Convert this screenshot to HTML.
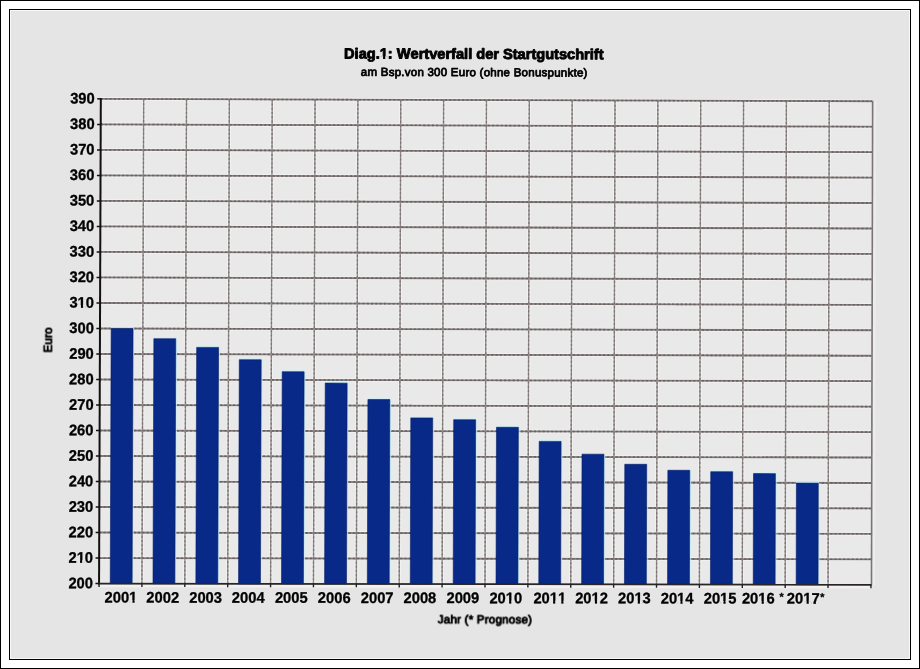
<!DOCTYPE html>
<html><head><meta charset="utf-8">
<style>
html,body{margin:0;padding:0;background:#fff;}
body{width:920px;height:669px;position:relative;overflow:hidden;}
#outer{position:absolute;left:0;top:0;width:918px;height:667px;border:1px solid #000;}
#inner{position:absolute;left:9px;top:9px;width:900px;height:649px;border:1px solid #000;background:#e5e5e5;box-shadow:inset 1px 1px 0 #f8f8f8, inset -1px -1px 0 #f8f8f8;}
svg{position:absolute;left:0;top:0;}
</style></head><body>
<div id="outer"></div>
<div id="inner"></div>
<svg width="920" height="669" viewBox="0 0 920 669" fill="none">
<path d="M100.82 98.88L872.10 101.26L870.94 584.75L99.05 583.56Z" fill="#e9e9e9"/>
<path d="M100.82 98.88L872.10 101.26M100.73 124.39L872.03 126.70M100.63 149.90L871.97 152.15M100.54 175.41L871.91 177.60M100.45 200.92L871.85 203.04M100.35 226.42L871.79 228.49M100.26 251.93L871.73 253.94M100.17 277.44L871.67 279.38M100.08 302.95L871.61 304.83M99.98 328.46L871.55 330.28M99.89 353.97L871.49 355.72M99.80 379.48L871.43 381.17M99.70 404.99L871.37 406.62M99.61 430.50L871.31 432.06M99.52 456.01L871.25 457.51M99.42 481.52L871.18 482.96M99.33 507.03L871.12 508.41M99.24 532.54L871.06 533.85M99.14 558.05L871.00 559.30M143.67 99.01L141.93 583.63M186.52 99.14L184.82 583.69M229.37 99.27L227.70 583.76M272.21 99.41L270.58 583.83M315.06 99.54L313.46 583.89M357.91 99.67L356.35 583.96M400.76 99.80L399.23 584.02M443.61 99.93L442.11 584.09M486.46 100.07L485.00 584.15M529.31 100.20L527.88 584.22M572.15 100.33L570.76 584.29M615.00 100.46L613.64 584.35M657.85 100.59L656.53 584.42M700.70 100.73L699.41 584.48M743.55 100.86L742.29 584.55M786.40 100.99L785.18 584.61M829.25 101.12L828.06 584.68M100.04 585.46L871.54 586.64" stroke="#f1f1f1" stroke-width="3.6"/>
<path d="M100.82 98.88L872.10 101.26M100.73 124.39L872.03 126.70M100.63 149.90L871.97 152.15M100.54 175.41L871.91 177.60M100.45 200.92L871.85 203.04M100.35 226.42L871.79 228.49M100.26 251.93L871.73 253.94M100.17 277.44L871.67 279.38M100.08 302.95L871.61 304.83M99.98 328.46L871.55 330.28M99.89 353.97L871.49 355.72M99.80 379.48L871.43 381.17M99.70 404.99L871.37 406.62M99.61 430.50L871.31 432.06M99.52 456.01L871.25 457.51M99.42 481.52L871.18 482.96M99.33 507.03L871.12 508.41M99.24 532.54L871.06 533.85M99.14 558.05L871.00 559.30" stroke="#817a79" stroke-width="1.85"/>
<path d="M100.82 98.88L872.10 101.26M100.73 124.39L872.03 126.70M100.63 149.90L871.97 152.15M100.54 175.41L871.91 177.60M100.45 200.92L871.85 203.04M100.35 226.42L871.79 228.49M100.26 251.93L871.73 253.94M100.17 277.44L871.67 279.38M100.08 302.95L871.61 304.83M99.98 328.46L871.55 330.28M99.89 353.97L871.49 355.72M99.80 379.48L871.43 381.17M99.70 404.99L871.37 406.62M99.61 430.50L871.31 432.06M99.52 456.01L871.25 457.51M99.42 481.52L871.18 482.96M99.33 507.03L871.12 508.41M99.24 532.54L871.06 533.85M99.14 558.05L871.00 559.30" stroke="#6a6260" stroke-width="1.55" stroke-dasharray="2.2 2.1"/>
<path d="M143.67 99.01L141.93 583.63M186.52 99.14L184.82 583.69M229.37 99.27L227.70 583.76M272.21 99.41L270.58 583.83M315.06 99.54L313.46 583.89M357.91 99.67L356.35 583.96M400.76 99.80L399.23 584.02M443.61 99.93L442.11 584.09M486.46 100.07L485.00 584.15M529.31 100.20L527.88 584.22M572.15 100.33L570.76 584.29M615.00 100.46L613.64 584.35M657.85 100.59L656.53 584.42M700.70 100.73L699.41 584.48M743.55 100.86L742.29 584.55M786.40 100.99L785.18 584.61M829.25 101.12L828.06 584.68" stroke="#918b8a" stroke-width="1.4"/>
<path d="M143.67 99.01L141.93 583.63M186.52 99.14L184.82 583.69M229.37 99.27L227.70 583.76M272.21 99.41L270.58 583.83M315.06 99.54L313.46 583.89M357.91 99.67L356.35 583.96M400.76 99.80L399.23 584.02M443.61 99.93L442.11 584.09M486.46 100.07L485.00 584.15M529.31 100.20L527.88 584.22M572.15 100.33L570.76 584.29M615.00 100.46L613.64 584.35M657.85 100.59L656.53 584.42M700.70 100.73L699.41 584.48M743.55 100.86L742.29 584.55M786.40 100.99L785.18 584.61M829.25 101.12L828.06 584.68" stroke="#7c7472" stroke-width="1.3" stroke-dasharray="2 2.2"/>
<path d="M874.70 100.66L873.54 584.75" stroke="#ececec" stroke-width="3"/>
<path d="M872.65 100.66L871.49 584.75" stroke="#7a7474" stroke-width="1.6"/>
<path d="M133.65 328.15L132.73 582.42M110.75 327.90L133.65 327.95M176.34 338.35L175.48 582.48M153.44 338.10L176.34 338.15M219.16 347.05L218.34 582.55M196.26 346.80L219.16 346.85M261.80 359.35L261.04 582.61M238.90 359.10L261.80 359.15M304.71 371.35L304.00 582.68M281.81 371.10L304.71 371.15M347.73 382.75L347.07 582.74M324.83 382.50L347.73 382.55M390.41 399.15L389.82 582.81M367.51 398.90L390.41 398.95M433.29 417.55L432.77 582.88M410.39 417.30L433.29 417.35M476.20 419.35L475.70 582.94M453.30 419.10L476.20 419.15M518.97 426.94L518.50 583.01M496.07 426.70L518.97 426.74M561.69 441.04L561.27 583.07M538.79 440.80L561.69 440.84M604.50 453.84L604.13 583.14M581.60 453.60L604.50 453.64M647.27 463.94L646.94 583.20M624.37 463.70L647.27 463.74M690.35 469.94L690.04 583.27M667.45 469.70L690.35 469.74M733.24 471.34L732.94 583.34M710.34 471.10L733.24 471.14M776.00 473.24L775.72 583.40M753.10 473.00L776.00 473.04M818.90 482.74L818.65 583.47M796.00 482.50L818.90 482.54" stroke="#c8eef4" stroke-width="1.2"/>
<path d="M111.15 328.50L133.05 328.55L132.13 583.62L110.23 583.58ZM153.84 338.70L175.74 338.75L174.88 583.68L152.98 583.65ZM196.66 347.40L218.56 347.45L217.74 583.75L195.84 583.71ZM239.30 359.70L261.20 359.75L260.44 583.81L238.54 583.78ZM282.21 371.70L304.11 371.75L303.40 583.88L281.50 583.84ZM325.23 383.10L347.13 383.15L346.47 583.94L324.57 583.91ZM367.91 399.50L389.81 399.55L389.22 584.01L367.32 583.98ZM410.79 417.90L432.69 417.95L432.17 584.08L410.27 584.04ZM453.70 419.70L475.60 419.75L475.10 584.14L453.20 584.11ZM496.47 427.30L518.37 427.34L517.90 584.21L496.00 584.17ZM539.19 441.40L561.09 441.44L560.67 584.27L538.77 584.24ZM582.00 454.20L603.90 454.24L603.53 584.34L581.63 584.30ZM624.77 464.30L646.67 464.34L646.34 584.40L624.44 584.37ZM667.85 470.30L689.75 470.34L689.44 584.47L667.54 584.44ZM710.74 471.70L732.64 471.74L732.34 584.54L710.44 584.50ZM753.50 473.60L775.40 473.64L775.12 584.60L753.22 584.57ZM796.40 483.10L818.30 483.14L818.05 584.67L796.15 584.63Z" fill="#082988" stroke="#061c64" stroke-width="0.6"/>
<path d="M100.82 98.08L99.05 584.46" stroke="#141010" stroke-width="2"/>
<path d="M98.05 583.56L871.54 584.75" stroke="#2a2424" stroke-width="1.8"/>
<path d="M97.22 98.87L100.82 98.88M97.13 124.38L100.73 124.39M97.03 149.89L100.63 149.90M96.94 175.40L100.54 175.41M96.85 200.91L100.45 200.92M96.75 226.42L100.35 226.42M96.66 251.93L100.26 251.93M96.57 277.44L100.17 277.44M96.47 302.95L100.08 302.95M96.38 328.46L99.98 328.46M96.29 353.97L99.89 353.97M96.19 379.48L99.80 379.48M96.10 404.99L99.70 404.99M96.01 430.50L99.61 430.50M95.91 456.01L99.52 456.01M95.82 481.52L99.42 481.52M95.73 507.03L99.33 507.03M95.63 532.54L99.24 532.54M95.54 558.05L99.14 558.05M95.45 583.56L99.05 583.56" stroke="#111" stroke-width="1.5"/>
<path d="M99.05 583.56L99.04 586.96M141.93 583.63L141.92 587.03M184.82 583.69L184.80 587.09M227.70 583.76L227.69 587.16M270.58 583.83L270.57 587.22M313.46 583.89L313.45 587.29M356.35 583.96L356.34 587.35M399.23 584.02L399.22 587.42M442.11 584.09L442.10 587.48M485.00 584.15L484.99 587.55M527.88 584.22L527.87 587.62M570.76 584.29L570.75 587.68M613.64 584.35L613.64 587.75M656.53 584.42L656.52 587.81M699.41 584.48L699.40 587.88M742.29 584.55L742.28 587.94M785.18 584.61L785.17 588.01M828.06 584.68L828.05 588.07M870.94 584.75L870.93 588.14" stroke="#222" stroke-width="1.4"/>
<g font-family="Liberation Sans, sans-serif" fill="#000" style="font-kerning:none;text-rendering:geometricPrecision;opacity:0.999">
<text transform="matrix(0.9800 0.00301 -0.00377 1.0200 70.147 103.532)" font-size="15" font-weight="bold" stroke="#000" stroke-width="0.32" stroke-linejoin="round">390</text>
<text transform="matrix(0.9800 0.00293 -0.00377 1.0200 70.054 129.042)" font-size="15" font-weight="bold" stroke="#000" stroke-width="0.32" stroke-linejoin="round">380</text>
<text transform="matrix(0.9800 0.00285 -0.00377 1.0200 69.960 154.551)" font-size="15" font-weight="bold" stroke="#000" stroke-width="0.32" stroke-linejoin="round">370</text>
<text transform="matrix(0.9800 0.00277 -0.00377 1.0200 69.867 180.061)" font-size="15" font-weight="bold" stroke="#000" stroke-width="0.32" stroke-linejoin="round">360</text>
<text transform="matrix(0.9800 0.00269 -0.00377 1.0200 69.774 205.571)" font-size="15" font-weight="bold" stroke="#000" stroke-width="0.32" stroke-linejoin="round">350</text>
<text transform="matrix(0.9800 0.00261 -0.00378 1.0200 69.681 231.081)" font-size="15" font-weight="bold" stroke="#000" stroke-width="0.32" stroke-linejoin="round">340</text>
<text transform="matrix(0.9800 0.00253 -0.00378 1.0200 69.588 256.590)" font-size="15" font-weight="bold" stroke="#000" stroke-width="0.32" stroke-linejoin="round">330</text>
<text transform="matrix(0.9800 0.00245 -0.00378 1.0200 69.495 282.100)" font-size="15" font-weight="bold" stroke="#000" stroke-width="0.32" stroke-linejoin="round">320</text>
<g transform="matrix(0.9800 0.00237 -0.00378 1.0200 69.402 307.610)"><text font-size="15" font-weight="bold" stroke="#000" stroke-width="0.32" stroke-linejoin="round">310</text><g fill="#e5e5e5" stroke="none"><rect x="8.59" y="-2.43" width="3.18" height="3.23"/><rect x="13.98" y="-2.43" width="2.79" height="3.23"/></g></g>
<text transform="matrix(0.9800 0.00229 -0.00378 1.0200 69.309 333.120)" font-size="15" font-weight="bold" stroke="#000" stroke-width="0.32" stroke-linejoin="round">300</text>
<text transform="matrix(0.9800 0.00221 -0.00378 1.0200 69.216 358.641)" font-size="15" font-weight="bold" stroke="#000" stroke-width="0.32" stroke-linejoin="round">290</text>
<text transform="matrix(0.9800 0.00213 -0.00378 1.0200 69.122 384.150)" font-size="15" font-weight="bold" stroke="#000" stroke-width="0.32" stroke-linejoin="round">280</text>
<text transform="matrix(0.9800 0.00205 -0.00378 1.0200 69.029 409.660)" font-size="15" font-weight="bold" stroke="#000" stroke-width="0.32" stroke-linejoin="round">270</text>
<text transform="matrix(0.9800 0.00197 -0.00378 1.0200 68.936 435.170)" font-size="15" font-weight="bold" stroke="#000" stroke-width="0.32" stroke-linejoin="round">260</text>
<text transform="matrix(0.9800 0.00189 -0.00378 1.0200 68.843 460.680)" font-size="15" font-weight="bold" stroke="#000" stroke-width="0.32" stroke-linejoin="round">250</text>
<text transform="matrix(0.9800 0.00181 -0.00378 1.0200 68.750 486.190)" font-size="15" font-weight="bold" stroke="#000" stroke-width="0.32" stroke-linejoin="round">240</text>
<text transform="matrix(0.9800 0.00173 -0.00378 1.0200 68.657 511.688)" font-size="15" font-weight="bold" stroke="#000" stroke-width="0.32" stroke-linejoin="round">230</text>
<text transform="matrix(0.9800 0.00165 -0.00378 1.0200 68.564 537.210)" font-size="15" font-weight="bold" stroke="#000" stroke-width="0.32" stroke-linejoin="round">220</text>
<g transform="matrix(0.9800 0.00157 -0.00378 1.0200 68.471 562.719)"><text font-size="15" font-weight="bold" stroke="#000" stroke-width="0.32" stroke-linejoin="round">210</text><g fill="#e5e5e5" stroke="none"><rect x="8.59" y="-2.43" width="3.18" height="3.23"/><rect x="13.98" y="-2.43" width="2.79" height="3.23"/></g></g>
<text transform="matrix(0.9800 0.00149 -0.00378 1.0200 68.378 588.229)" font-size="15" font-weight="bold" stroke="#000" stroke-width="0.32" stroke-linejoin="round">200</text>
<g transform="matrix(0.9800 0.00144 -0.00372 1.0200 104.542 602.541)"><text font-size="15" font-weight="bold" stroke="#000" stroke-width="0.32" stroke-linejoin="round">2001</text><g fill="#e5e5e5" stroke="none"><rect x="25.27" y="-2.43" width="3.18" height="3.23"/><rect x="30.67" y="-2.43" width="2.79" height="3.23"/></g></g>
<text transform="matrix(0.9800 0.00144 -0.00365 1.0200 146.356 602.607)" font-size="15" font-weight="bold" stroke="#000" stroke-width="0.32" stroke-linejoin="round">2002</text>
<text transform="matrix(0.9800 0.00144 -0.00358 1.0200 189.211 602.662)" font-size="15" font-weight="bold" stroke="#000" stroke-width="0.32" stroke-linejoin="round">2003</text>
<text transform="matrix(0.9800 0.00144 -0.00350 1.0200 231.869 602.738)" font-size="15" font-weight="bold" stroke="#000" stroke-width="0.32" stroke-linejoin="round">2004</text>
<text transform="matrix(0.9800 0.00144 -0.00343 1.0200 274.918 602.804)" font-size="15" font-weight="bold" stroke="#000" stroke-width="0.32" stroke-linejoin="round">2005</text>
<text transform="matrix(0.9800 0.00144 -0.00336 1.0200 317.862 602.870)" font-size="15" font-weight="bold" stroke="#000" stroke-width="0.32" stroke-linejoin="round">2006</text>
<text transform="matrix(0.9800 0.00144 -0.00329 1.0200 360.804 602.936)" font-size="15" font-weight="bold" stroke="#000" stroke-width="0.32" stroke-linejoin="round">2007</text>
<text transform="matrix(0.9800 0.00144 -0.00322 1.0200 403.590 603.002)" font-size="15" font-weight="bold" stroke="#000" stroke-width="0.32" stroke-linejoin="round">2008</text>
<text transform="matrix(0.9800 0.00144 -0.00314 1.0200 446.521 603.067)" font-size="15" font-weight="bold" stroke="#000" stroke-width="0.32" stroke-linejoin="round">2009</text>
<g transform="matrix(0.9800 0.00144 -0.00307 1.0200 489.433 603.133)"><text font-size="15" font-weight="bold" stroke="#000" stroke-width="0.32" stroke-linejoin="round">2010</text><g fill="#e5e5e5" stroke="none"><rect x="16.93" y="-2.43" width="3.18" height="3.23"/><rect x="22.32" y="-2.43" width="2.79" height="3.23"/></g></g>
<g transform="matrix(0.9800 0.00144 -0.00300 1.0200 533.379 603.199)"><text font-size="15" font-weight="bold" stroke="#000" stroke-width="0.32" stroke-linejoin="round">2011</text><g fill="#e5e5e5" stroke="none"><rect x="16.93" y="-2.43" width="3.18" height="3.23"/><rect x="22.32" y="-2.43" width="6.12" height="3.23"/><rect x="30.67" y="-2.43" width="2.79" height="3.23"/></g></g>
<g transform="matrix(0.9800 0.00144 -0.00293 1.0200 575.194 603.265)"><text font-size="15" font-weight="bold" stroke="#000" stroke-width="0.32" stroke-linejoin="round">2012</text><g fill="#e5e5e5" stroke="none"><rect x="16.93" y="-2.43" width="3.18" height="3.23"/><rect x="22.32" y="-2.43" width="2.79" height="3.23"/></g></g>
<g transform="matrix(0.9800 0.00144 -0.00286 1.0200 618.049 603.319)"><text font-size="15" font-weight="bold" stroke="#000" stroke-width="0.32" stroke-linejoin="round">2013</text><g fill="#e5e5e5" stroke="none"><rect x="16.93" y="-2.43" width="3.18" height="3.23"/><rect x="22.32" y="-2.43" width="2.79" height="3.23"/></g></g>
<g transform="matrix(0.9800 0.00144 -0.00279 1.0200 660.707 603.396)"><text font-size="15" font-weight="bold" stroke="#000" stroke-width="0.32" stroke-linejoin="round">2014</text><g fill="#e5e5e5" stroke="none"><rect x="16.93" y="-2.43" width="3.18" height="3.23"/><rect x="22.32" y="-2.43" width="2.79" height="3.23"/></g></g>
<g transform="matrix(0.9800 0.00144 -0.00271 1.0200 703.756 603.462)"><text font-size="15" font-weight="bold" stroke="#000" stroke-width="0.32" stroke-linejoin="round">2015</text><g fill="#e5e5e5" stroke="none"><rect x="16.93" y="-2.43" width="3.18" height="3.23"/><rect x="22.32" y="-2.43" width="2.79" height="3.23"/></g></g>
<g transform="matrix(0.9800 0.00144 -0.00265 1.0200 741.936 603.528)"><text font-size="15" font-weight="bold" stroke="#000" stroke-width="0.32" stroke-linejoin="round">2016 <tspan font-size="10.80" dx="0.82" dy="-2.91">*</tspan></text><g fill="#e5e5e5" stroke="none"><rect x="16.93" y="-2.43" width="3.18" height="3.23"/><rect x="22.32" y="-2.43" width="2.79" height="3.23"/></g></g>
<g transform="matrix(0.9800 0.00144 -0.00257 1.0200 786.862 603.593)"><text font-size="15" font-weight="bold" stroke="#000" stroke-width="0.32" stroke-linejoin="round">2017<tspan font-size="10.80" dx="0.82" dy="-2.91">*</tspan></text><g fill="#e5e5e5" stroke="none"><rect x="16.93" y="-2.43" width="3.18" height="3.23"/><rect x="22.32" y="-2.43" width="2.79" height="3.23"/></g></g>
<text transform="matrix(1.0000 0.00141 -0.00310 1.0000 437.754 623.300)" font-size="11.5" letter-spacing="0.25" stroke="#000" stroke-width="0.95" stroke-linejoin="round">Jahr (* Prognose)</text>
<text transform="translate(51.80,339.80) rotate(-90) translate(-12.74,0.00)" font-size="11.7" letter-spacing="0.1" stroke="#000" stroke-width="0.95" stroke-linejoin="round">Euro</text>
<g transform="matrix(1.0000 0.00321 -0.00325 1.0000 344.048 58.400)"><text font-size="14.6" font-weight="bold" stroke="#000" stroke-width="0.9" stroke-linejoin="round">Diag.1: Wertverfall der Startgutschrift</text><g fill="#e5e5e5" stroke="none"><rect x="35.91" y="-2.39" width="3.11" height="3.19"/><rect x="41.19" y="-2.39" width="2.72" height="3.19"/></g></g>
<text transform="matrix(1.0000 0.00316 -0.00322 1.0000 360.807 75.800)" font-size="11.5" letter-spacing="0.25" stroke="#000" stroke-width="0.8" stroke-linejoin="round">am Bsp.von 300 Euro (ohne Bonuspunkte)</text>
</g>
</svg>
</body></html>
